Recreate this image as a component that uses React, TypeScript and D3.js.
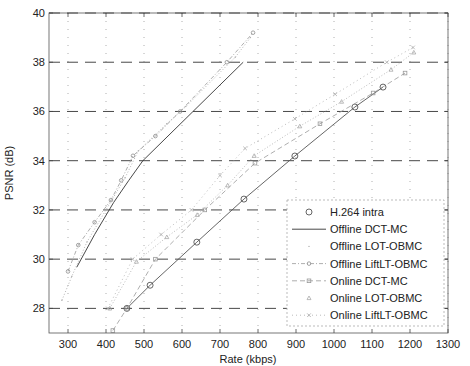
import React from "react";
import * as d3 from "d3";

const xTicks = [300, 400, 500, 600, 700, 800, 900, 1000, 1100, 1200, 1300];
const yTicks = [28, 30, 32, 34, 36, 38, 40];

const seriesNames = [
  "H.264 intra",
  "Offline DCT-MC",
  "Offline LOT-OBMC",
  "Offline LiftLT-OBMC",
  "Online DCT-MC",
  "Online LOT-OBMC",
  "Online LiftLT-OBMC",
];

const h264Rate = [455, 516, 639, 763, 897, 1055, 1129];
const h264Psnr = [28.0, 28.94, 30.69, 32.44, 34.19, 36.18, 36.99];

const offDctRate = [323, 370, 420, 460, 497, 629, 761];
const offDctPsnr = [29.67, 31.0, 32.3, 33.2, 34.0, 36.0, 38.0];

const offLotRate = [284, 310, 350, 400, 450, 485, 560, 610, 740, 780];
const offLotPsnr = [28.33, 29.3, 30.7, 32.0, 33.3, 34.4, 35.5, 36.2, 38.2, 39.0];

const offLiftRate = [300, 327, 370, 413, 440, 471, 530, 595, 718, 787];
const offLiftPsnr = [29.5, 30.57, 31.5, 32.4, 33.2, 34.2, 35.0, 36.0, 38.0, 39.2];

const onDctRate = [418, 455, 530, 660, 792, 963, 1103, 1187];
const onDctPsnr = [27.1, 28.0, 30.0, 32.0, 33.9, 35.5, 36.75, 37.56];

const onLotRate = [410, 480, 560, 640, 720, 790, 910, 1020, 1150, 1210];
const onLotPsnr = [28.0, 29.9, 30.9, 31.8, 33.0, 34.2, 35.4, 36.4, 37.7, 38.4];

const onLiftRate = [405, 470, 545, 625, 700, 766, 897, 1003, 1139, 1208];
const onLiftPsnr = [28.0, 30.0, 31.0, 32.0, 33.4, 34.5, 35.7, 36.7, 38.0, 38.6];

type Style = {
  color: string;
  width: number;
  dash: string;
  marker: string;
  size: number;
  legendLine: boolean;
};

const styles: Style[] = [
  { color: "#555", width: 0.9, dash: "", marker: "circle", size: 3, legendLine: false },
  { color: "#333", width: 0.9, dash: "", marker: "none", size: 0, legendLine: true },
  { color: "#aaa", width: 0.9, dash: "1,2", marker: "dot", size: 0.7, legendLine: false },
  { color: "#999", width: 0.8, dash: "4,2,1,2", marker: "circle", size: 1.8, legendLine: true },
  { color: "#999", width: 0.8, dash: "5,3", marker: "square", size: 1.8, legendLine: true },
  { color: "#aaa", width: 0.8, dash: "1,2", marker: "triangle", size: 2, legendLine: false },
  { color: "#aaa", width: 0.8, dash: "1,3", marker: "x", size: 1.8, legendLine: true },
];

const allRates = [h264Rate, offDctRate, offLotRate, offLiftRate, onDctRate, onLotRate, onLiftRate];
const allPsnr = [h264Psnr, offDctPsnr, offLotPsnr, offLiftPsnr, onDctPsnr, onLotPsnr, onLiftPsnr];

const W = 470;
const H = 366;
const left = 49;
const right = 448;
const top = 13;
const bottom = 333;

const x = d3.scaleLinear().domain([250, 1300]).range([left, right]);
const y = d3.scaleLinear().domain([27, 40]).range([bottom, top]);

function Marker({ kind, cx, cy, color, r }: { kind: string; cx: number; cy: number; color: string; r: number }) {
  if (kind === "circle")
    return <circle cx={cx} cy={cy} r={r} fill="none" stroke={color} strokeWidth={0.9} />;
  if (kind === "dot") return <circle cx={cx} cy={cy} r={r} fill={color} />;
  if (kind === "square")
    return <rect x={cx - r} y={cy - r} width={2 * r} height={2 * r} fill="none" stroke={color} strokeWidth={0.8} />;
  if (kind === "triangle")
    return (
      <path
        d={`M${cx},${cy - r}L${cx + r},${cy + r * 0.8}L${cx - r},${cy + r * 0.8}Z`}
        fill="none"
        stroke={color}
        strokeWidth={0.8}
      />
    );
  if (kind === "x")
    return (
      <path
        d={`M${cx - r},${cy - r}L${cx + r},${cy + r}M${cx - r},${cy + r}L${cx + r},${cy - r}`}
        stroke={color}
        strokeWidth={0.8}
      />
    );
  return null;
}

export default function App() {
  const line = d3
    .line<[number, number]>()
    .x((d) => x(d[0]))
    .y((d) => y(d[1]));

  const legX = 287;
  const legY = 200;
  const legW = 157;
  const legH = 126;
  const font = "'Liberation Sans', Arial, sans-serif";

  return (
    <svg
      width={W}
      height={H}
      style={{ position: "absolute", left: 0, top: 0, background: "#fff" }}
      fontFamily={font}
    >
      <rect width={W} height={H} fill="#fff" />
      <defs>
        <clipPath id="plotclip">
          <rect x={left} y={top} width={right - left} height={bottom - top} />
        </clipPath>
      </defs>
      {xTicks.map((t) => (
        <line
          key={"gx" + t}
          x1={x(t)}
          x2={x(t)}
          y1={top}
          y2={bottom}
          stroke="#999"
          strokeWidth={0.8}
          strokeDasharray="1,7"
        />
      ))}
      {yTicks.map((t) => (
        <line
          key={"gy" + t}
          x1={left}
          x2={right}
          y1={y(t)}
          y2={y(t)}
          stroke="#333"
          strokeWidth={0.9}
          strokeDasharray="11,7"
        />
      ))}
      <g clipPath="url(#plotclip)">
        {allRates.map((rates, i) => {
          const pts: [number, number][] = rates.map((r, j) => [r, allPsnr[i][j]]);
          const s = styles[i];
          return (
            <g key={"s" + i}>
              <path
                d={line(pts) || ""}
                fill="none"
                stroke={s.color}
                strokeWidth={s.width}
                strokeDasharray={s.dash || undefined}
              />
              {pts.map((p, j) => (
                <Marker key={j} kind={s.marker} cx={x(p[0])} cy={y(p[1])} color={s.color} r={s.size} />
              ))}
            </g>
          );
        })}
      </g>
      <rect x={left} y={top} width={right - left} height={bottom - top} fill="none" stroke="#555" strokeWidth={0.8} />
      {xTicks.map((t) => (
        <g key={"tx" + t}>
          <line x1={x(t)} x2={x(t)} y1={bottom} y2={bottom - 4} stroke="#444" strokeWidth={0.8} />
          <line x1={x(t)} x2={x(t)} y1={top} y2={top + 4} stroke="#444" strokeWidth={0.8} />
          <text x={x(t)} y={bottom + 15} textAnchor="middle" fontSize={11} fill="#222">
            {t}
          </text>
        </g>
      ))}
      {yTicks.map((t) => (
        <g key={"ty" + t}>
          <line x1={left} x2={left + 4} y1={y(t)} y2={y(t)} stroke="#444" strokeWidth={0.8} />
          <line x1={right} x2={right - 4} y1={y(t)} y2={y(t)} stroke="#444" strokeWidth={0.8} />
          <text x={left - 4} y={y(t) + 4} textAnchor="end" fontSize={11} fill="#222">
            {t}
          </text>
        </g>
      ))}
      <text x={248} y={363} textAnchor="middle" fontSize={11} fill="#222">
        Rate (kbps)
      </text>
      <text
        transform={`translate(13,${(top + bottom) / 2}) rotate(-90)`}
        textAnchor="middle"
        fontSize={11}
        fill="#222"
      >
        PSNR (dB)
      </text>
      <rect x={legX} y={legY} width={legW} height={legH} fill="#fff" stroke="#aaa" strokeWidth={0.8} strokeDasharray="2,2" />
      {seriesNames.map((name, i) => {
        const s = styles[i];
        const ly = 212 + i * 17.2;
        const x1 = legX + 5;
        const x2 = legX + 39;
        return (
          <g key={"leg" + i}>
            {s.legendLine && (
              <line
                x1={x1}
                x2={x2}
                y1={ly}
                y2={ly}
                stroke={s.color}
                strokeWidth={s.width}
                strokeDasharray={s.dash || undefined}
              />
            )}
            <Marker kind={s.marker} cx={(x1 + x2) / 2} cy={ly} color={s.color} r={s.size} />
            <text x={legX + 43} y={ly + 4} fontSize={11} fill="#222">
              {name}
            </text>
          </g>
        );
      })}
    </svg>
  );
}
